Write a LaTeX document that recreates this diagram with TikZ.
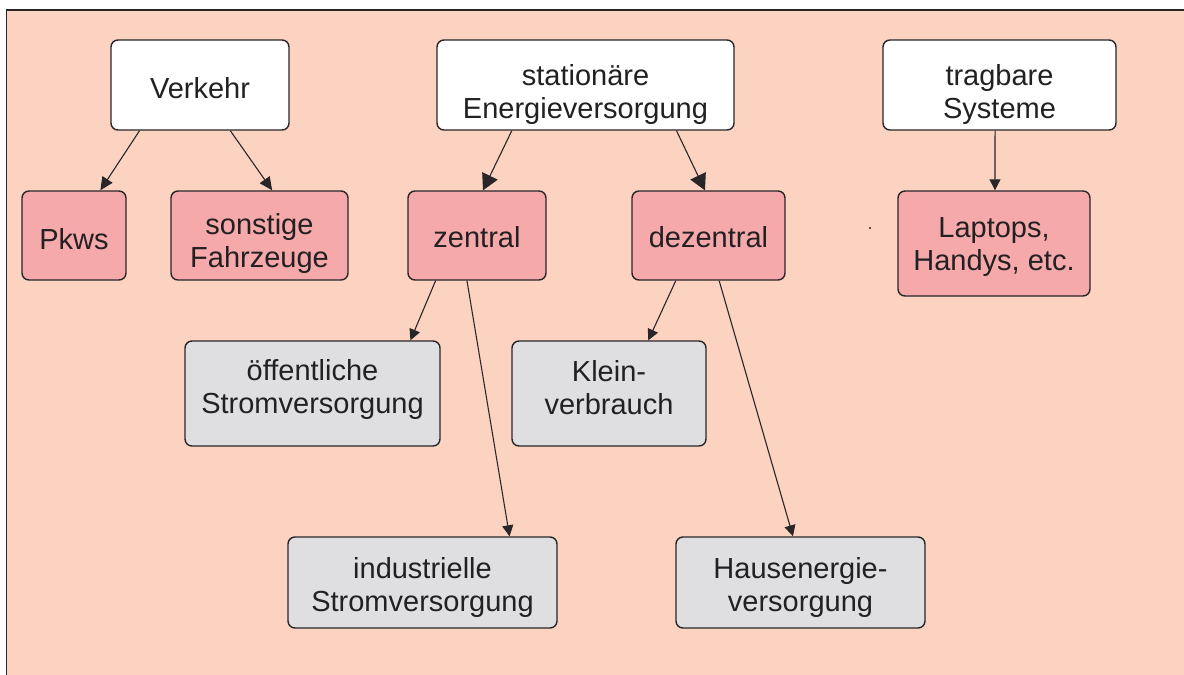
\documentclass[tikz,border=0pt]{standalone}
\usepackage{fontspec}
\setmainfont{Liberation Sans}
\usetikzlibrary{arrows.meta,calc}
\definecolor{bgpeach}{RGB}{252,211,192}
\definecolor{boxpink}{RGB}{245,169,170}
\definecolor{boxgrey}{RGB}{223,223,225}
\definecolor{edge}{RGB}{40,38,40}
\definecolor{txtc}{RGB}{35,32,34}
\tikzset{
  boxbase/.style={rectangle, rounded corners=7pt, draw=edge, line width=1.4pt, inner sep=0pt},
  wbox/.style={boxbase, fill=white},
  pbox/.style={boxbase, fill=boxpink},
  gbox/.style={boxbase, fill=boxgrey},
  txtlbl/.style={align=center, text=txtc, inner sep=0pt, font=\fontsize{29}{33}\selectfont},
  arr/.style={draw=edge, line width=1.1pt, -{Triangle[length=13pt,width=12pt]}},
  arrbig/.style={draw=edge, line width=1.1pt, -{Triangle[length=16pt,width=17pt]}},
  arrsmall/.style={draw=edge, line width=1.1pt, -{Triangle[length=11pt,width=11pt]}},
}
\begin{document}
\begin{tikzpicture}[x=1pt,y=-1pt]
\useasboundingbox (0,0) rectangle (1184,675);
\fill[white] (0,0) rectangle (1184,675);
\fill[bgpeach] (6.5,10) rectangle (1184,675);
\draw[edge, line width=1.4pt] (6.5,675) -- (6.5,10) -- (1184,10);

% top row
\node[wbox, minimum width=178pt, minimum height=90pt] (verk) at (200,85) {};
\node[txtlbl] (verkt) at (200,88) {Verkehr};
\node[wbox, minimum width=297pt, minimum height=90pt] (stat) at (585.5,85) {};
\node[txtlbl] (statt) at (585.5,94) {stationäre\\Energieversorgung};
\node[wbox, minimum width=233pt, minimum height=90pt] (trag) at (999.5,85) {};
\node[txtlbl] (tragt) at (999.5,94) {tragbare\\Systeme};

% second row
\node[pbox, minimum width=104pt, minimum height=89pt] (pkws) at (74,235.5) {};
\node[txtlbl] (pkwst) at (74,239.5) {Pkws};
\node[pbox, minimum width=177pt, minimum height=89pt] (sonst) at (259.5,235.5) {};
\node[txtlbl] (sonstt) at (259.5,243.5) {sonstige\\Fahrzeuge};
\node[pbox, minimum width=138pt, minimum height=89pt] (zent) at (477,235.5) {};
\node[txtlbl] (zentt) at (477,237.5) {zentral};
\node[pbox, minimum width=153pt, minimum height=89pt] (dez) at (708.5,235.5) {};
\node[txtlbl] (dezt) at (708.5,237.5) {dezentral};
\node[pbox, minimum width=192pt, minimum height=105pt] (lap) at (994,243.5) {};
\node[txtlbl] (lapt) at (994,247.5) {Laptops,\\Handys, etc.};

% third row
\node[gbox, minimum width=255pt, minimum height=105pt] (oeff) at (312.5,393.5) {};
\node[txtlbl] (oefft) at (312.5,389.5) {öffentliche\\Stromversorgung};
\node[gbox, minimum width=194pt, minimum height=105pt] (klein) at (609,393.5) {};
\node[txtlbl] (kleint) at (609,388) {Klein-\\verbrauch};

% fourth row
\node[gbox, minimum width=269pt, minimum height=91pt] (indu) at (422.5,582.5) {};
\node[txtlbl] (indut) at (422.5,587.5) {industrielle\\Stromversorgung};
\node[gbox, minimum width=249pt, minimum height=91pt] (haus) at (800.5,582.5) {};
\node[txtlbl] (haust) at (800.5,587.5) {Hausenergie-\\versorgung};

% stray dot
\fill[edge] (870,228) circle (1.1pt);

% connectors
\draw[arr] ($(verk.south west)!0.163!(verk.south east)$) -- ($(pkws.north west)!0.75!(pkws.north east)$);
\draw[arr] ($(verk.south west)!0.669!(verk.south east)$) -- ($(sonst.north west)!0.571!(sonst.north east)$);
\draw[arrbig] ($(stat.south west)!0.253!(stat.south east)$) -- ($(zent.north west)!0.543!(zent.north east)$);
\draw[arrbig] ($(stat.south west)!0.805!(stat.south east)$) -- ($(dez.north west)!0.477!(dez.north east)$);
\draw[arrsmall] ($(trag.south west)!0.481!(trag.south east)$) -- ($(lap.north west)!0.505!(lap.north east)$);
\draw[arrsmall] ($(zent.south west)!0.203!(zent.south east)$) -- ($(oeff.north west)!0.882!(oeff.north east)$);
\draw[arrsmall] ($(zent.south west)!0.428!(zent.south east)$) -- ($(indu.north west)!0.822!(indu.north east)$);
\draw[arrsmall] ($(dez.south west)!0.288!(dez.south east)$) -- ($(klein.north west)!0.701!(klein.north east)$);
\draw[arrsmall] ($(dez.south west)!0.569!(dez.south east)$) -- ($(haus.north west)!0.47!(haus.north east)$);
\end{tikzpicture}
\end{document}
